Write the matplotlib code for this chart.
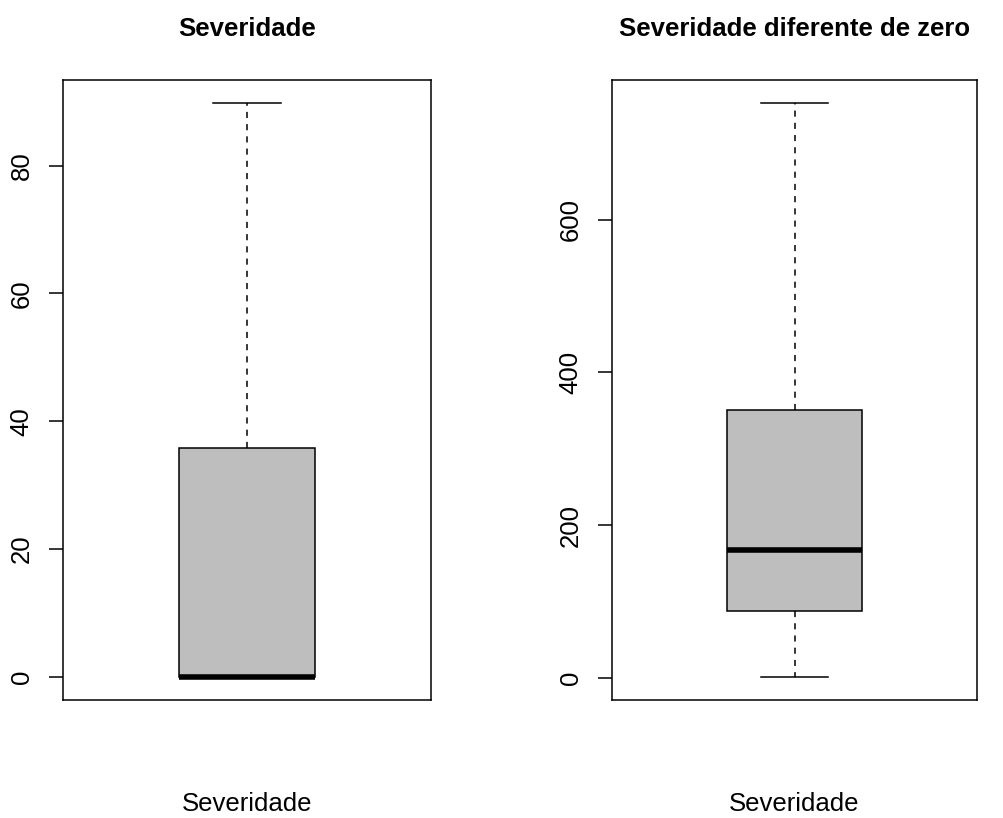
import matplotlib
matplotlib.use("Agg")
import matplotlib.pyplot as plt

plt.rcParams["font.family"] = ["Liberation Sans", "DejaVu Sans"]

titles = ["Severidade", "Severidade diferente de zero"]
xlabels = ["Severidade", "Severidade"]
# five-number summaries: whislo, q1, median, q3, whishi
whislo = [0, 1]
q1 = [0, 87]
med = [0, 168]
q3 = [35.9, 351]
whishi = [89.8, 753]
yticks = [[0, 20, 40, 60, 80], [0, 200, 400, 600]]

fig = plt.figure(figsize=(10.04, 8.18), dpi=100)
positions = [[63 / 1004, 1 - 700 / 818, 368 / 1004, 620 / 818],
             [612 / 1004, 1 - 700 / 818, 365 / 1004, 620 / 818]]

for i in range(2):
    ax = fig.add_axes(positions[i])
    stats = [dict(whislo=whislo[i], q1=q1[i], med=med[i], q3=q3[i], whishi=whishi[i], fliers=[])]
    ax.bxp(stats, positions=[1], widths=0.37, patch_artist=True, showfliers=False,
           boxprops=dict(facecolor="#bebebe", edgecolor="black", linewidth=1.1),
           medianprops=dict(color="black", linewidth=4, solid_capstyle="butt"),
           whiskerprops=dict(color="black", linestyle=(0, (4, 4)), linewidth=1.1),
           capprops=dict(color="black", linewidth=1.1), capwidths=0.185)
    span = whishi[i] - whislo[i]
    ax.set_ylim(whislo[i] - 0.04 * span, whishi[i] + 0.04 * span)
    ax.set_xlim(0.5, 1.5)
    ax.set_xticks([])
    ax.set_yticks(yticks[i])
    ax.set_yticklabels([str(t) for t in yticks[i]], rotation=90, va="center", fontsize=18.5)
    ax.tick_params(axis="y", length=10, width=1.1, pad=11)
    for s in ax.spines.values():
        s.set_linewidth(1.1)
    ax.set_title(titles[i], fontsize=18.5, fontweight="bold", pad=32)
    ax.set_xlabel(xlabels[i], fontsize=18.5, labelpad=66)

fig.savefig("out.png", dpi=100)
